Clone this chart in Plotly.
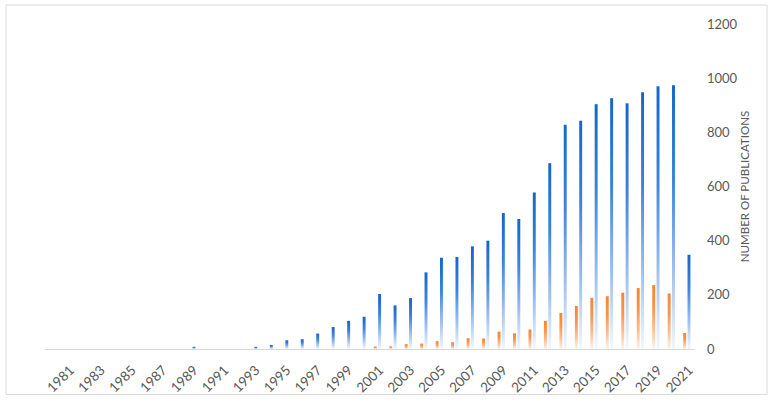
import plotly.graph_objects as go

years = list(range(1981, 2022))
total_pubs = [0, 0, 0, 0, 0, 0, 0, 0, 8, 0, 0, 0, 8, 15, 32, 36, 57, 81, 104, 119,
              203, 161, 188, 283, 337, 340, 379, 400, 502, 480, 578, 686, 828, 843,
              904, 926, 907, 948, 970, 974, 348]
subset_pubs = [0] * 20 + [9, 10, 18, 20, 29, 25, 40, 39, 64, 58, 72, 104, 133, 159,
                          189, 195, 208, 225, 236, 205, 59]
tick_years = list(range(1981, 2022, 2))
y_ticks = [0, 200, 400, 600, 800, 1000, 1200]

BAR_W = 0.19
BLUE_OFF = 0.0
ORANGE_OFF = -0.28

blue_scale = [[0, "#f4f8fe"], [0.3, "#9dbff0"], [0.65, "#3a82dc"], [1, "#1565cc"]]
orange_scale = [[0, "#fff3ea"], [0.3, "#fbbf92"], [0.65, "#f7944c"], [1, "#f58634"]]

fig = go.Figure()

def add_bars(vals, off, scale, name):
    for yr, v in zip(years, vals):
        if v <= 0:
            continue
        x0 = yr + off - BAR_W / 2
        x1 = yr + off + BAR_W / 2
        fig.add_trace(go.Scatter(
            x=[x0, x1, x1, x0, x0], y=[0, 0, v, v, 0],
            mode="lines", line=dict(width=0), fill="toself",
            fillgradient=dict(type="vertical", colorscale=scale),
            name=name, showlegend=False,
            hovertemplate=f"{yr}: {v}<extra>{name}</extra>",
        ))

add_bars(total_pubs, BLUE_OFF, blue_scale, "Total publications")
add_bars(subset_pubs, ORANGE_OFF, orange_scale, "Subset publications")

L, R, T, B = 45, 75, 24, 54.5
W, H = 770, 404
pw, ph = W - L - R, H - T - B

fig.update_layout(
    width=W, height=H, autosize=False,
    margin=dict(l=L, r=R, t=T, b=B, pad=0),
    paper_bgcolor="white", plot_bgcolor="white",
    font=dict(family="Lato, Open Sans, sans-serif", color="#595959", size=13),
    showlegend=False,
    xaxis=dict(
        range=[1979.37, 2021.39], tickmode="array", tickvals=tick_years,
        ticktext=[str(t) for t in tick_years], tickangle=-45,
        showgrid=False, zeroline=False, showline=True, linecolor="#d9d9d9",
        linewidth=1, ticks="", ticklabelstandoff=7, automargin=False,
        tickfont=dict(size=13.5, color="#595959"),
    ),
    yaxis=dict(
        range=[0, 1200], side="right", tickmode="array", tickvals=y_ticks,
        showgrid=False, zeroline=False, showline=False, ticks="",
        ticklabelstandoff=11, automargin=True,
        tickfont=dict(size=13, color="#595959"),
        title=dict(text="NUMBER OF PUBLICATIONS", font=dict(size=11.5, color="#595959"),
                   standoff=4),
    ),
    shapes=[dict(
        type="rect", xref="paper", yref="paper",
        x0=(6 - L) / pw, x1=(767 - L) / pw,
        y0=(H - B - 395) / ph, y1=(H - B - 5) / ph,
        line=dict(color="#d9d9d9", width=1), fillcolor="rgba(0,0,0,0)", layer="below",
    )],
)

fig.write_html("out.html", config={"displayModeBar": False},
               post_script="document.body.style.margin='0';")
